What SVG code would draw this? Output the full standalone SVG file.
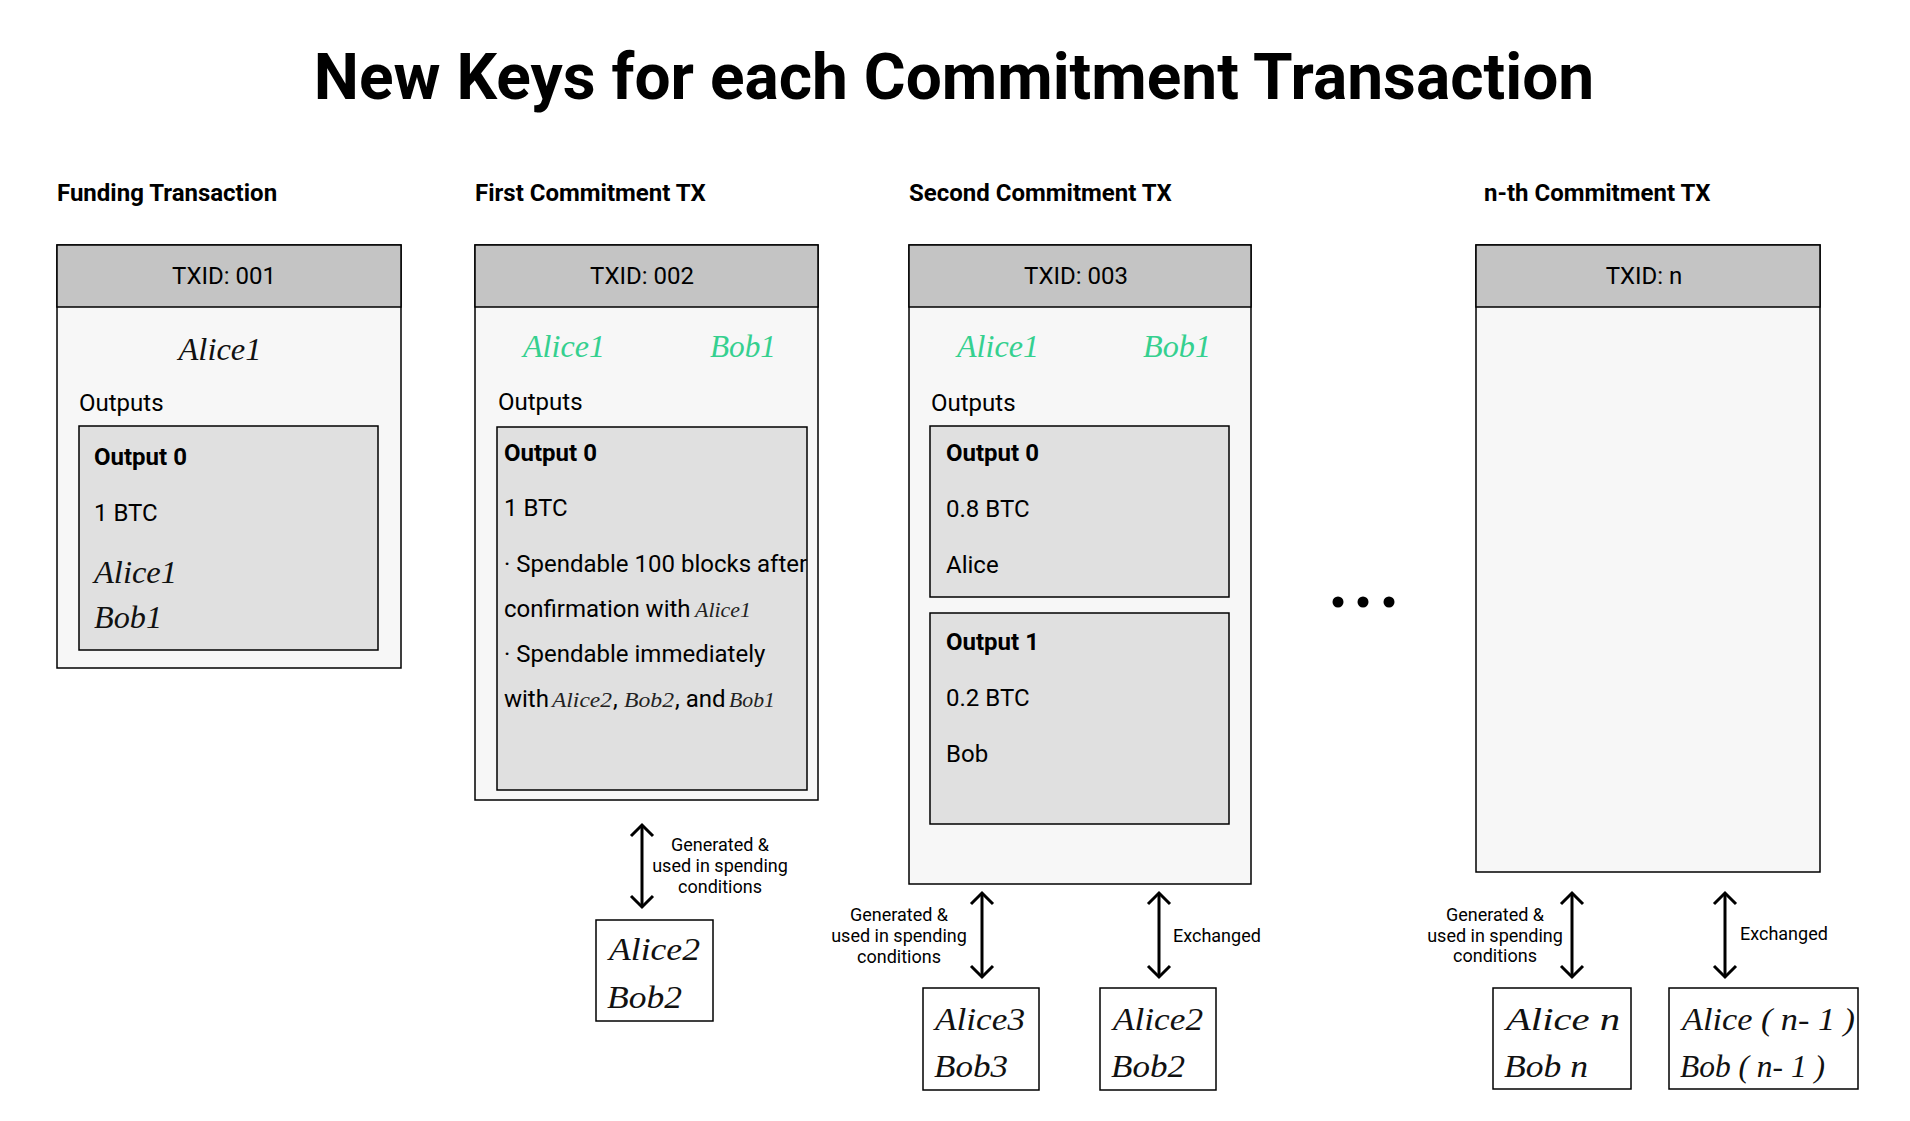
<svg xmlns="http://www.w3.org/2000/svg" width="1910" height="1121" viewBox="0 0 1910 1121">
<style>
.title{font-family:Roboto,"Liberation Sans",sans-serif;font-weight:700;font-size:64px;fill:#000}
.sec{font-family:Roboto,"Liberation Sans",sans-serif;font-weight:700;font-size:24px;fill:#000}
.txt{font-family:Roboto,"Liberation Sans",sans-serif;font-size:24px;fill:#000}
.bold{font-family:Roboto,"Liberation Sans",sans-serif;font-weight:700;font-size:24px;fill:#000}
.lbl{font-family:Roboto,"Liberation Sans",sans-serif;font-size:18px;fill:#000}
.sig{font-family:"Liberation Serif","DejaVu Serif",serif;font-style:italic;font-size:32px;fill:#111}
.gsig{font-family:"Liberation Serif","DejaVu Serif",serif;font-style:italic;font-size:32px;fill:#35d08f}
.ssig{font-family:"Liberation Serif","DejaVu Serif",serif;font-style:italic;font-size:22px;fill:#222}
.hdr{fill:#c4c4c4;stroke:#000;stroke-width:1.5}
.body{fill:#f7f7f7;stroke:#000;stroke-width:1.5}
.inner{fill:#e0e0e0;stroke:#000;stroke-width:1.5}
.key{fill:#fff;stroke:#000;stroke-width:1.5}
.arr{stroke:#000;stroke-width:3;fill:none;marker-start:url(#chev);marker-end:url(#chev)}
</style>
<defs>
<marker id="chev" markerUnits="userSpaceOnUse" viewBox="-2 -13 16 26" refX="11" refY="0" markerWidth="16" markerHeight="26" orient="auto-start-reverse" overflow="visible">
<path d="M0,-11 L11,0 L0,11" fill="none" stroke="#000" stroke-width="3" stroke-linejoin="miter"/>
</marker>
<clipPath id="clip2"><rect x="497" y="427" width="310" height="363"/></clipPath>
</defs>
<rect width="1910" height="1121" fill="#fff"/>
<text class="title" x="954" y="99" text-anchor="middle">New Keys for each Commitment Transaction</text>

<g id="funding">
<text class="sec" x="57" y="201">Funding Transaction</text>
<rect class="body" x="57" y="245" width="344" height="423"/>
<rect class="hdr" x="57" y="245" width="344" height="62"/>
<text class="txt" x="224" y="284" text-anchor="middle">TXID: 001</text>
<text class="sig" x="220" y="360" text-anchor="middle" textLength="83" lengthAdjust="spacingAndGlyphs">Alice1</text>
<text class="txt" x="79" y="411">Outputs</text>
<rect class="inner" x="79" y="426" width="299" height="224"/>
<text class="bold" x="94" y="465">Output 0</text>
<text class="txt" x="94" y="521">1 BTC</text>
<text class="sig" x="94" y="583" textLength="83" lengthAdjust="spacingAndGlyphs">Alice1</text>
<text class="sig" x="94" y="628" textLength="68" lengthAdjust="spacingAndGlyphs">Bob1</text>
</g>

<g id="first">
<text class="sec" x="475" y="201">First Commitment TX</text>
<rect class="body" x="475" y="245" width="343" height="555"/>
<rect class="hdr" x="475" y="245" width="343" height="62"/>
<text class="txt" x="642" y="284" text-anchor="middle">TXID: 002</text>
<text class="gsig" x="523" y="357" textLength="82" lengthAdjust="spacingAndGlyphs">Alice1</text>
<text class="gsig" x="710" y="357" textLength="66" lengthAdjust="spacingAndGlyphs">Bob1</text>
<text class="txt" x="498" y="410">Outputs</text>
<rect class="inner" x="497" y="427" width="310" height="363"/>
<g clip-path="url(#clip2)">
<text class="bold" x="504" y="461">Output 0</text>
<text class="txt" x="504" y="516">1 BTC</text>
<text class="txt" x="504" y="572">· Spendable 100 blocks after</text>
<text class="txt" x="504" y="617">confirmation with</text>
<text class="ssig" x="695" y="617" textLength="56" lengthAdjust="spacingAndGlyphs">Alice1</text>
<text class="txt" x="504" y="662">· Spendable immediately</text>
<text class="txt" x="504" y="707">with</text>
<text class="ssig" x="552" y="707" textLength="60" lengthAdjust="spacingAndGlyphs">Alice2</text>
<text class="txt" x="613" y="707">,</text>
<text class="ssig" x="624" y="707" textLength="50" lengthAdjust="spacingAndGlyphs">Bob2</text>
<text class="txt" x="675" y="707">, and</text>
<text class="ssig" x="729" y="707" textLength="46" lengthAdjust="spacingAndGlyphs">Bob1</text>
</g>
</g>

<g id="second">
<text class="sec" x="909" y="201">Second Commitment TX</text>
<rect class="body" x="909" y="245" width="342" height="639"/>
<rect class="hdr" x="909" y="245" width="342" height="62"/>
<text class="txt" x="1076" y="284" text-anchor="middle">TXID: 003</text>
<text class="gsig" x="957" y="357" textLength="82" lengthAdjust="spacingAndGlyphs">Alice1</text>
<text class="gsig" x="1143" y="357" textLength="68" lengthAdjust="spacingAndGlyphs">Bob1</text>
<text class="txt" x="931" y="411">Outputs</text>
<rect class="inner" x="930" y="426" width="299" height="171"/>
<text class="bold" x="946" y="461">Output 0</text>
<text class="txt" x="946" y="517">0.8 BTC</text>
<text class="txt" x="946" y="573">Alice</text>
<rect class="inner" x="930" y="613" width="299" height="211"/>
<text class="bold" x="946" y="650">Output 1</text>
<text class="txt" x="946" y="706">0.2 BTC</text>
<text class="txt" x="946" y="762">Bob</text>
</g>

<g id="ellipsis">
<circle cx="1338" cy="602" r="5.5" fill="#000"/>
<circle cx="1363" cy="602" r="5.5" fill="#000"/>
<circle cx="1389" cy="602" r="5.5" fill="#000"/>
</g>

<g id="nth">
<text class="sec" x="1484" y="201">n-th Commitment TX</text>
<rect class="body" x="1476" y="245" width="344" height="627"/>
<rect class="hdr" x="1476" y="245" width="344" height="62"/>
<text class="txt" x="1644" y="284" text-anchor="middle">TXID: n</text>
</g>

<g id="keys1">
<rect class="key" x="596" y="920" width="117" height="101"/>
<text class="sig" x="609" y="960" textLength="91" lengthAdjust="spacingAndGlyphs">Alice2</text>
<text class="sig" x="607" y="1008" textLength="75" lengthAdjust="spacingAndGlyphs">Bob2</text>
</g>
<g id="keys2">
<rect class="key" x="923" y="988" width="116" height="102"/>
<text class="sig" x="935" y="1030" textLength="90" lengthAdjust="spacingAndGlyphs">Alice3</text>
<text class="sig" x="934" y="1077" textLength="74" lengthAdjust="spacingAndGlyphs">Bob3</text>
</g>
<g id="keys3">
<rect class="key" x="1100" y="988" width="116" height="102"/>
<text class="sig" x="1113" y="1030" textLength="90" lengthAdjust="spacingAndGlyphs">Alice2</text>
<text class="sig" x="1111" y="1077" textLength="74" lengthAdjust="spacingAndGlyphs">Bob2</text>
</g>
<g id="keys4">
<rect class="key" x="1493" y="988" width="138" height="101"/>
<text class="sig" x="1506" y="1030" textLength="114" lengthAdjust="spacingAndGlyphs">Alice  n</text>
<text class="sig" x="1504" y="1077" textLength="84" lengthAdjust="spacingAndGlyphs">Bob  n</text>
</g>
<g id="keys5">
<rect class="key" x="1669" y="988" width="189" height="101"/>
<text class="sig" x="1682" y="1030" textLength="173" lengthAdjust="spacingAndGlyphs">Alice  ( n- 1 )</text>
<text class="sig" x="1680" y="1077" textLength="145" lengthAdjust="spacingAndGlyphs">Bob  ( n- 1 )</text>
</g>

<g id="connectors">
<line class="arr" x1="642" y1="825" x2="642" y2="907"/>
<line class="arr" x1="982" y1="893" x2="982" y2="977"/>
<line class="arr" x1="1159" y1="893" x2="1159" y2="977"/>
<line class="arr" x1="1572" y1="893" x2="1572" y2="977"/>
<line class="arr" x1="1725" y1="893" x2="1725" y2="977"/>
<text class="lbl" text-anchor="middle"><tspan x="720" y="851">Generated &amp;</tspan><tspan x="720" y="872">used in spending</tspan><tspan x="720" y="893">conditions</tspan></text>
<text class="lbl" text-anchor="middle"><tspan x="899" y="921">Generated &amp;</tspan><tspan x="899" y="942">used in spending</tspan><tspan x="899" y="963">conditions</tspan></text>
<text class="lbl" x="1173" y="942">Exchanged</text>
<text class="lbl" text-anchor="middle"><tspan x="1495" y="921">Generated &amp;</tspan><tspan x="1495" y="942">used in spending</tspan><tspan x="1495" y="962">conditions</tspan></text>
<text class="lbl" x="1740" y="940">Exchanged</text>
</g>
</svg>
